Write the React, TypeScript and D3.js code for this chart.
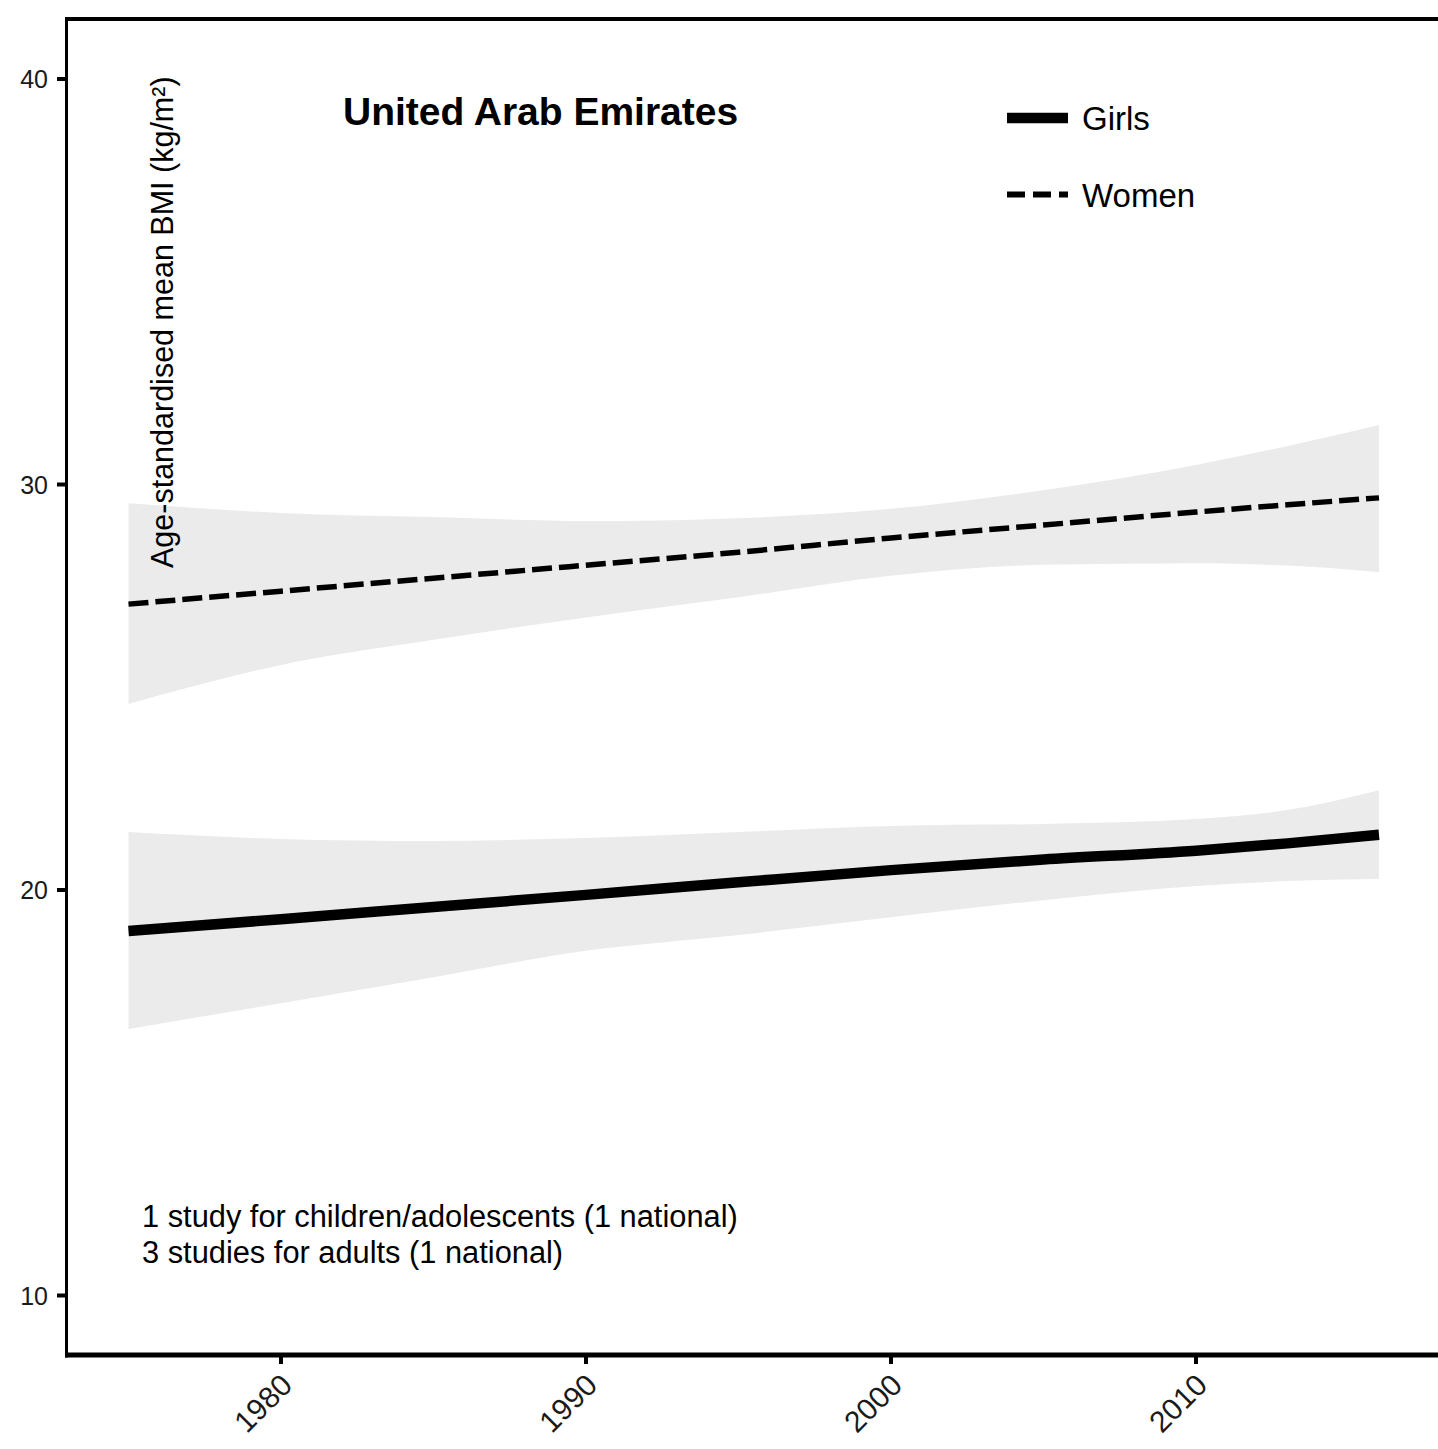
import React from "react";
import * as d3 from "d3";

const years = [1975, 1980, 1985, 1990, 1995, 2000, 2005, 2010, 2013, 2016];
const womenMean = [27.05, 27.37, 27.69, 28.01, 28.33, 28.68, 29.0, 29.32, 29.5, 29.67];
const womenUpper = [29.54, 29.3, 29.2, 29.1, 29.17, 29.4, 29.86, 30.48, 30.95, 31.47];
const womenLower = [24.59, 25.55, 26.17, 26.72, 27.22, 27.75, 28.02, 28.06, 28.0, 27.84];
const girlsMean = [18.99, 19.28, 19.58, 19.88, 20.19, 20.49, 20.75, 20.97, 21.15, 21.36];
const girlsUpper = [21.43, 21.26, 21.21, 21.28, 21.43, 21.58, 21.63, 21.75, 21.97, 22.46];
const girlsLower = [16.57, 17.21, 17.85, 18.5, 18.89, 19.33, 19.75, 20.1, 20.22, 20.27];
const yTicks = [10, 20, 30, 40];
const xTicks = [1980, 1990, 2000, 2010];
const legendLabels = ["Girls", "Women"];
const title = "United Arab Emirates";
const yLabel = "Age-standardised mean BMI (kg/m\u00B2)";
const notes = ["1 study for children/adolescents (1 national)", "3 studies for adults (1 national)"];

const FONT = "'Liberation Sans', Arial, Helvetica, sans-serif";

export default function App() {
  const W = 1438, H = 1449;
  const x = d3.scaleLinear().domain([1980, 2010]).range([281, 1196]);
  const y = d3.scaleLinear().domain([10, 40]).range([1295.5, 79]);
  const left = 66.5, top = 19, bottom = 1355;

  const band = (lo: number[], hi: number[]) =>
    d3.area<number>()
      .x((_, i) => x(years[i]))
      .y0((_, i) => y(lo[i]))
      .y1((_, i) => y(hi[i]))
      .curve(d3.curveMonotoneX)(years) || "";
  const line = (v: number[]) =>
    d3.line<number>()
      .x((_, i) => x(years[i]))
      .y((_, i) => y(v[i]))
      .curve(d3.curveMonotoneX)(years) || "";

  return (
    <svg width={W} height={H} style={{ position: "absolute", left: 0, top: 0, background: "#fff" }} fontFamily={FONT}>
      <rect x={0} y={0} width={W} height={H} fill="#fff" />
      <path d={band(womenLower, womenUpper)} fill="#EBEBEB" />
      <path d={band(girlsLower, girlsUpper)} fill="#EBEBEB" />
      <path d={line(womenMean)} fill="none" stroke="#000" strokeWidth={5.5} strokeDasharray="20 7" />
      <path d={line(girlsMean)} fill="none" stroke="#000" strokeWidth={10.5} />

      {/* frame */}
      <line x1={left} x2={left} y1={17} y2={bottom + 2.5} stroke="#000" strokeWidth={3} />
      <line x1={65} x2={W} y1={top} y2={top} stroke="#000" strokeWidth={4} />
      <line x1={65} x2={W} y1={bottom} y2={bottom} stroke="#000" strokeWidth={5} />

      {yTicks.map((t) => (
        <g key={t}>
          <line x1={57} x2={66} y1={y(t)} y2={y(t)} stroke="#000" strokeWidth={4} />
          <text x={48} y={y(t)} dy="0.36em" textAnchor="end" fontSize={25} fill="#1a1a1a">{t}</text>
        </g>
      ))}
      {xTicks.map((t) => (
        <g key={t}>
          <line x1={x(t)} x2={x(t)} y1={bottom} y2={1364} stroke="#000" strokeWidth={4} />
          <text transform={`translate(${x(t) + 13},${1387}) rotate(-45)`} textAnchor="end" fontSize={30} fill="#1a1a1a">{t}</text>
        </g>
      ))}

      <text transform={`translate(${172.5},${568}) rotate(-90)`} fontSize={30.5} fill="#000">{yLabel}</text>

      <text x={343} y={125} fontSize={39} fontWeight="bold" fill="#000">{title}</text>

      <line x1={1007} x2={1068} y1={118} y2={118} stroke="#000" strokeWidth={10.5} />
      <text x={1082} y={130} fontSize={33} fill="#000">{legendLabels[0]}</text>
      <line x1={1007} x2={1068} y1={194.5} y2={194.5} stroke="#000" strokeWidth={6} strokeDasharray="18 8" />
      <text x={1082} y={207} fontSize={33} fill="#000">{legendLabels[1]}</text>

      {notes.map((n, i) => (
        <text key={i} x={142} y={1227 + i * 36} fontSize={30.8} fill="#000">{n}</text>
      ))}
    </svg>
  );
}
